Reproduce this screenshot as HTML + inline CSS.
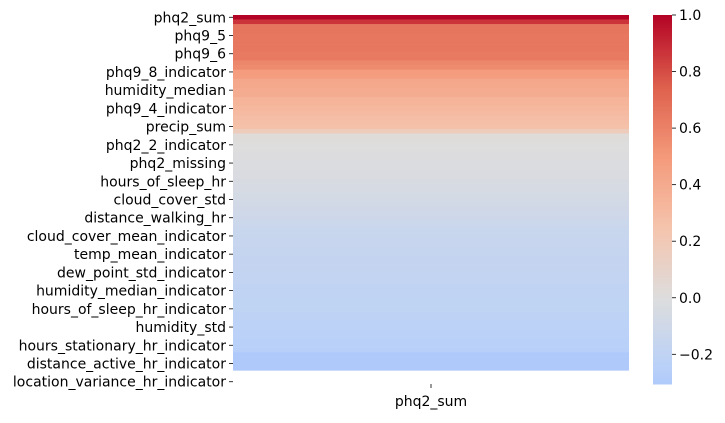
<!DOCTYPE html>
<html><head><meta charset="utf-8"><style>
body{margin:0;background:#fff;width:725px;height:418px;overflow:hidden}
svg text{font-family:"DejaVu Sans","Liberation Sans",sans-serif;font-size:14px;fill:#000}
</style></head><body>
<svg id="chart" width="725" height="418" xmlns="http://www.w3.org/2000/svg"></svg>
<script>
const rowLabels = ["phq2_sum","phq9_5","phq9_6","phq9_8_indicator","humidity_median","phq9_4_indicator","precip_sum","phq2_2_indicator","phq2_missing","hours_of_sleep_hr","cloud_cover_std","distance_walking_hr","cloud_cover_mean_indicator","temp_mean_indicator","dew_point_std_indicator","humidity_median_indicator","hours_of_sleep_hr_indicator","humidity_std","hours_stationary_hr_indicator","distance_active_hr_indicator","location_variance_hr_indicator"];
const values = [1.0,0.87,0.66,0.66,0.65,0.65,0.65,0.65,0.64,0.64,0.58,0.57,0.49,0.48,0.42,0.41,0.40,0.39,0.35,0.34,0.32,0.31,0.29,0.28,0.27,0.17,0.02,0.01,0.0,0.0,-0.01,-0.01,-0.02,-0.02,-0.03,-0.03,-0.04,-0.05,-0.05,-0.06,-0.07,-0.08,-0.09,-0.10,-0.11,-0.12,-0.13,-0.14,-0.14,-0.15,-0.15,-0.16,-0.16,-0.17,-0.17,-0.17,-0.18,-0.18,-0.18,-0.19,-0.19,-0.19,-0.20,-0.20,-0.20,-0.21,-0.21,-0.22,-0.22,-0.23,-0.23,-0.24,-0.24,-0.25,-0.305,-0.305,-0.305,-0.305,null,null,null];
const cbTicks = [1.0,0.8,0.6,0.4,0.2,0.0,-0.2];
const cbTickLabels = ["1.0","0.8","0.6","0.4","0.2","0.0","\u22120.2"];
const columnLabels = ["phq2_sum"];
const vmin = -0.305, vmax = 1.0;

const NS="http://www.w3.org/2000/svg";
const svg=document.getElementById('chart');
const stops=[[59,76,192],[98,130,234],[141,176,254],[184,208,249],[221,221,221],[245,196,173],[244,154,123],[222,96,77],[180,4,38]];
function cmap(v){let t=(v+1)/2;t=Math.max(0,Math.min(1,t));const p=t*8,i=Math.min(7,Math.floor(p)),f=p-i;
 const a=stops[i],b=stops[i+1];return `rgb(${a.map((c,k)=>Math.round(c+(b[k]-c)*f)).join(',')})`;}
function mk(tag,attrs){const e=document.createElementNS(NS,tag);for(const k in attrs)e.setAttribute(k,attrs[k]);svg.appendChild(e);return e;}
const plotTop=15,plotBottom=384,plotLeft=233,plotRight=629;
const rh=(plotBottom-plotTop)/values.length;
const yRow=i=>plotTop+i*rh;
values.forEach((v,i)=>{if(v===null)return;
 const r=mk('rect',{x:plotLeft,y:yRow(i),width:plotRight-plotLeft,height:rh+0.3,fill:cmap(v)});
 
 });
rowLabels.forEach((l,j)=>{const y=yRow(j*4)+rh/2;
 const tk=mk('line',{x1:229,x2:233,y1:y,y2:y,stroke:'#000','stroke-width':0.8});
 
 
 const t=mk('text',{x:226,y:y+5,'text-anchor':'end'});t.textContent=l;
 
 });
columnLabels.forEach((l,j)=>{const x=plotLeft+(plotRight-plotLeft)*(j+0.5)/columnLabels.length;
 const tk=mk('line',{x1:x,x2:x,y1:384,y2:388,stroke:'#000','stroke-width':0.8});
 
 
 const t=mk('text',{x:x,y:406,'text-anchor':'middle'});t.textContent=l;
 
 });
const cbx=653,cbw=19,cbTop=15,cbBot=384;
const cy=v=>cbTop+(vmax-v)/(vmax-vmin)*(cbBot-cbTop);
for(let k=0;k<200;k++){const v=vmax-(vmax-vmin)*k/200;
 const r=mk('rect',{x:cbx,y:cy(v),width:cbw,height:(cbBot-cbTop)/200+0.5,fill:cmap(v)});
 
 }
cbTicks.forEach((v,i)=>{const y=cy(v);
 const tk=mk('line',{x1:cbx+cbw,x2:cbx+cbw+4,y1:y,y2:y,stroke:'#000','stroke-width':0.8});
 
 
 const t=mk('text',{x:cbx+cbw+7,y:y+5});t.textContent=cbTickLabels[i];
 
 });
</script>
</body></html>
